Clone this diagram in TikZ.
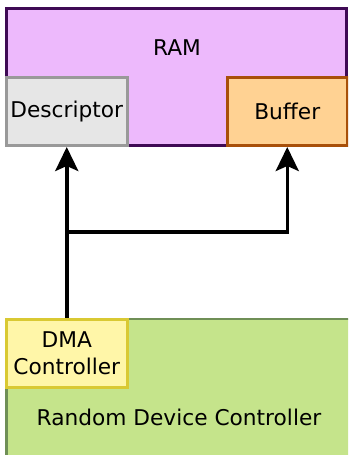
\documentclass[tikz,border=0pt]{standalone}
\usepackage{fontspec}
\setmainfont{DejaVu Sans}
\usetikzlibrary{arrows.meta,calc,positioning}
\definecolor{ramfill}{HTML}{EDB9FC}
\definecolor{ramline}{HTML}{3F0A55}
\definecolor{descfill}{HTML}{E6E6E6}
\definecolor{descline}{HTML}{999999}
\definecolor{buffill}{HTML}{FFD293}
\definecolor{bufline}{HTML}{A8500A}
\definecolor{dmafill}{HTML}{FFF6A8}
\definecolor{dmaline}{HTML}{D9C933}
\definecolor{devfill}{HTML}{C5E48B}
\definecolor{devline}{HTML}{6F8F56}
\tikzset{
  blockbox/.style={draw,rectangle,inner sep=0pt,line width=3pt,align=center},
  busline/.style={-{Stealth[length=24pt,width=23pt,inset=5pt]},black,line width=3.5pt}
}

\begin{document}
\begin{tikzpicture}[x=1pt,y=-1pt,font=\fontsize{21.7}{27.5}\selectfont]
    \useasboundingbox (0,0) rectangle (348,455);
    \clip (0,0) rectangle (348,455);
    % memory side
    \node[blockbox,draw=ramline,fill=ramfill,minimum width=339.5pt,minimum height=137pt] (ram) at (176.5,77) {};
    \node (ramtitle) at (177,48) {RAM};
    \node[blockbox,draw=descline,fill=descfill,minimum width=120.5pt,minimum height=68pt] (desc) at (66.75,111.5) {Descriptor};
    \node[blockbox,draw=bufline,fill=buffill,minimum width=120pt,minimum height=68pt] (buf) at (287.25,111.5) {Buffer};
    % device side
    \node[blockbox,draw=devline,fill=devfill,line width=2.5pt,minimum width=345pt,minimum height=196pt] (dev) at (179,417) {Random Device Controller};
    \node[blockbox,draw=dmaline,fill=dmafill,minimum width=120.5pt,minimum height=68pt] (dma) at (66.75,353) {DMA\\Controller};
    % transfers
    \draw[busline] (dma.north) -- (desc.south);
    \coordinate (fork) at (66.75,232);
    \draw[busline] (fork) -| (buf.south);
  \end{tikzpicture}
\end{document}
